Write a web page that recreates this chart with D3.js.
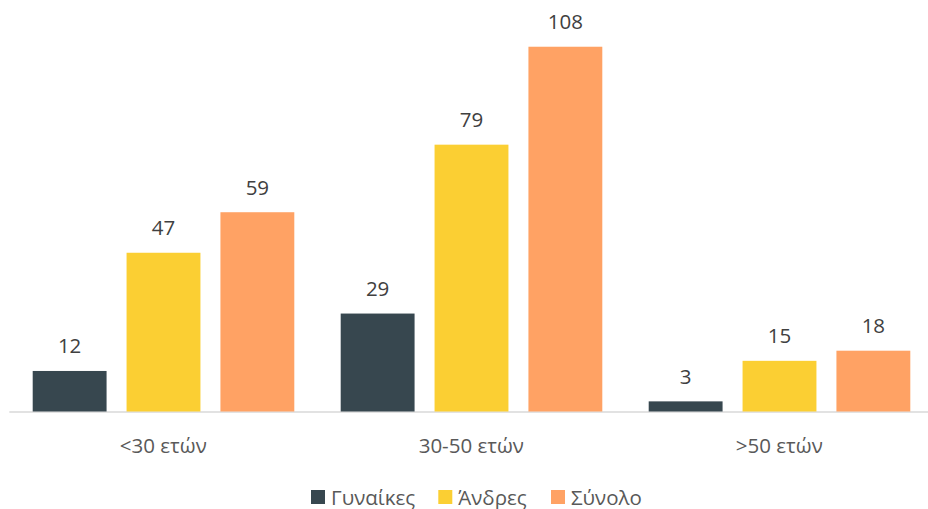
<!DOCTYPE html>
<html><head><meta charset="utf-8">
<script src="https://cdn.jsdelivr.net/npm/d3@7"></script>
<style>body{margin:0;background:#fff}svg{display:block}</style>
</head><body>
<script>
const categories = ["<30 ετών", "30-50 ετών", ">50 ετών"];
const seriesNames = ["Γυναίκες", "Άνδρες", "Σύνολο"];
const women = [12, 29, 3];
const men = [47, 79, 15];
const total = [59, 108, 18];
const colors = ["#37474f", "#fbcf33", "#ffa264"];

const W = 928, H = 509;
const svg = d3.select("body").append("svg").attr("width", W).attr("height", H)
  .style("font-family", "'Open Sans', sans-serif");

const x0 = d3.scaleBand().domain(categories).range([9.3, 933.3]).paddingInner(0).paddingOuter(0);
const x1 = d3.scaleBand().domain(seriesNames).range([23.4, 285]).paddingInner(0.213).paddingOuter(0);
const y = d3.scaleLinear().domain([0, 120]).range([411.5, 6.2]);

const rows = categories.map((c, i) => ({cat: c, vals: [women[i], men[i], total[i]]}));

// axis line
svg.append("line").attr("x1", 9.3).attr("x2", W).attr("y1", 412).attr("y2", 412)
  .attr("stroke", "#d9d9d9").attr("stroke-width", 1.5);

const g = svg.selectAll("g.grp").data(rows).join("g").attr("class", "grp")
  .attr("transform", d => `translate(${x0(d.cat)},0)`);

g.selectAll("rect").data(d => d.vals.map((v, j) => ({name: seriesNames[j], v, j})))
  .join("rect")
  .attr("x", d => x1(d.name)).attr("width", x1.bandwidth())
  .attr("y", d => y(d.v)).attr("height", d => y(0) - y(d.v))
  .attr("fill", d => colors[d.j]);

g.selectAll("text.val").data(d => d.vals.map((v, j) => ({name: seriesNames[j], v, j})))
  .join("text").attr("class", "val")
  .attr("x", d => x1(d.name) + x1.bandwidth() / 2)
  .attr("y", d => y(d.v) - 17.5)
  .attr("text-anchor", "middle").attr("font-size", 20.5).attr("fill", "#404040")
  .text(d => d.v);

// category axis labels
const xAxis = d3.axisBottom(x0).tickSize(0).tickPadding(0);
const ax = svg.append("g").attr("transform", "translate(0,412)").call(xAxis);
ax.select(".domain").remove();
ax.selectAll("text").attr("font-size", 20.5).attr("fill", "#595959")
  .attr("font-family", "'Open Sans', sans-serif").attr("dy", null).attr("y", 40.7);

// legend
const legendX = [311, 438.3, 551];
const lg = svg.selectAll("g.leg").data(seriesNames).join("g").attr("class", "leg")
  .attr("transform", (d, i) => `translate(${legendX[i]},490)`);
lg.append("rect").attr("width", 14).attr("height", 14).attr("fill", (d, i) => colors[i]);
lg.append("text").attr("x", 20).attr("y", 14.5).attr("font-size", 20.5).attr("fill", "#595959").text(d => d);
</script>
</body></html>
